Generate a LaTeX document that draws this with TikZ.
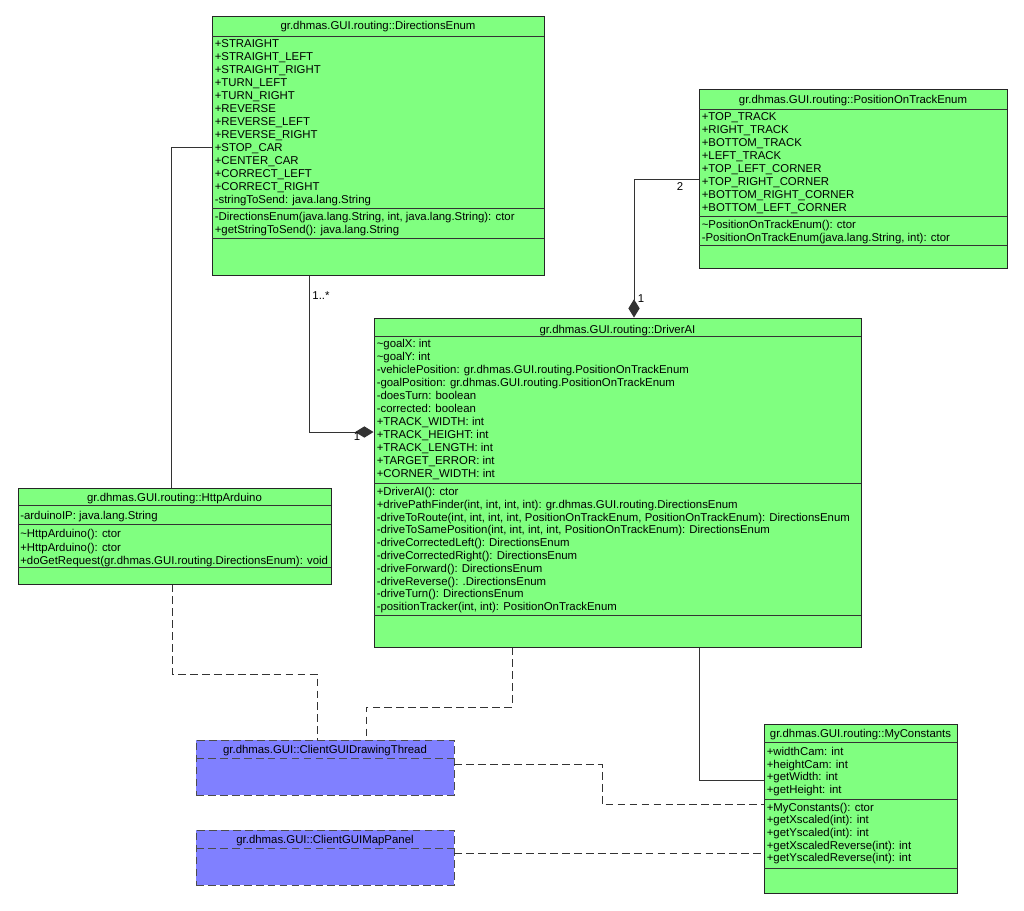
\documentclass[tikz,border=0pt]{standalone}
\usepackage{fontspec}
\setmainfont{Liberation Sans}
\usetikzlibrary{positioning,fit,arrows.meta}

\definecolor{vertuml}{HTML}{80FF80}
\definecolor{bleuuml}{HTML}{8080FF}

\tikzset{
  classe/.style={draw=black!85, fill=vertuml, line width=0.7pt, inner sep=0pt},
  classebleue/.style={draw=black!70, fill=bleuuml, line width=0.7pt, inner sep=0pt, dash pattern=on 5.5pt off 3pt},
  titre/.style={anchor=base, inner sep=0pt, font=\fontsize{8.1}{9.5}\selectfont},
  texte/.style={anchor=base west, inner sep=0pt, font=\fontsize{8.1}{9.5}\selectfont},
  lien/.style={draw=black!80, line width=0.7pt},
  dependance/.style={lien, dash pattern=on 5.5pt off 3pt},
  composition/.style={lien, -{Diamond[length=13pt,width=8pt]}},
  etiquette/.style={inner sep=0pt, font=\fontsize{8.1}{9.5}\selectfont},
}

\begin{document}
\begin{tikzpicture}[x=0.025cm, y=-0.025cm]
\fill[white] (0,0) rectangle (1024,910);
\useasboundingbox (0,0) rectangle (1024,910);

% DirectionsEnum
\node[classe, fit={(212,16) (544,275)}] (dirEnum) {};
\draw[lien] (212,36) -- (544,36) (212,208) -- (544,208) (212,238) -- (544,238);
\node[titre] (dirTitre) at (378,29.5) {gr.dhmas.GUI.routing::DirectionsEnum};
\foreach \ligne [count=\i from 0] in {+STRAIGHT, +STRAIGHT\_LEFT, +STRAIGHT\_RIGHT, +TURN\_LEFT, +TURN\_RIGHT, +REVERSE, +REVERSE\_LEFT, +REVERSE\_RIGHT, +STOP\_CAR, +CENTER\_CAR, +CORRECT\_LEFT, +CORRECT\_RIGHT, -stringToSend: java.lang.String}{
  \node[texte] (dirA\i) at (214.5,47+13.03*\i) {\ligne};
}
\foreach \ligne [count=\i from 0] in {{-DirectionsEnum(java.lang.String, int, java.lang.String): ctor}, +getStringToSend(): java.lang.String}{
  \node[texte] (dirM\i) at (214.5,220.3+13*\i) {\ligne};
}

% PositionOnTrackEnum
\node[classe, fit={(699,89) (1007,268)}] (posEnum) {};
\draw[lien] (699,109) -- (1007,109) (699,216) -- (1007,216) (699,245) -- (1007,245);
\node[titre] (posTitre) at (853,103.5) {gr.dhmas.GUI.routing::PositionOnTrackEnum};
\foreach \ligne [count=\i from 0] in {+TOP\_TRACK, +RIGHT\_TRACK, +BOTTOM\_TRACK, +LEFT\_TRACK, +TOP\_LEFT\_CORNER, +TOP\_RIGHT\_CORNER, +BOTTOM\_RIGHT\_CORNER, +BOTTOM\_LEFT\_CORNER}{
  \node[texte] (posA\i) at (701.5,120.8+13*\i) {\ligne};
}
\foreach \ligne [count=\i from 0] in {\textasciitilde PositionOnTrackEnum(): ctor, {-PositionOnTrackEnum(java.lang.String, int): ctor}}{
  \node[texte] (posM\i) at (701.5,228.5+13.3*\i) {\ligne};
}

% DriverAI
\node[classe, fit={(374,318) (861,647)}] (driverAI) {};
\draw[lien] (374,336) -- (861,336) (374,483.3) -- (861,483.3) (374,615) -- (861,615);
\node[titre] (drvTitre) at (617.5,333.5) {gr.dhmas.GUI.routing::DriverAI};
\foreach \ligne [count=\i from 0] in {\textasciitilde goalX: int, \textasciitilde goalY: int, -vehiclePosition: gr.dhmas.GUI.routing.PositionOnTrackEnum, -goalPosition: gr.dhmas.GUI.routing.PositionOnTrackEnum, -doesTurn: boolean, -corrected: boolean, +TRACK\_WIDTH: int, +TRACK\_HEIGHT: int, +TRACK\_LENGTH: int, +TARGET\_ERROR: int, +CORNER\_WIDTH: int}{
  \node[texte] (drvA\i) at (376.5,347.8+13*\i) {\ligne};
}
\foreach \ligne [count=\i from 0] in {+DriverAI(): ctor, {+drivePathFinder(int, int, int, int): gr.dhmas.GUI.routing.DirectionsEnum}, {-driveToRoute(int, int, int, int, PositionOnTrackEnum, PositionOnTrackEnum): DirectionsEnum}, {-driveToSamePosition(int, int, int, int, PositionOnTrackEnum): DirectionsEnum}, -driveCorrectedLeft(): DirectionsEnum, -driveCorrectedRight(): DirectionsEnum, -driveForward(): DirectionsEnum, -driveReverse(): .DirectionsEnum, -driveTurn(): DirectionsEnum, {-positionTracker(int, int): PositionOnTrackEnum}}{
  \node[texte] (drvM\i) at (376.5,495.5+12.8*\i) {\ligne};
}

% HttpArduino
\node[classe, fit={(18,488) (331,584)}] (httpArduino) {};
\draw[lien] (18,505) -- (331,505) (18,524.3) -- (331,524.3) (18,567.7) -- (331,567.7);
\node[titre] (httpTitre) at (174.5,501.2) {gr.dhmas.GUI.routing::HttpArduino};
\node[texte] (httpA0) at (20,519.5) {-arduinoIP: java.lang.String};
\foreach \ligne [count=\i from 0] in {\textasciitilde HttpArduino(): ctor, +HttpArduino(): ctor, +doGetRequest(gr.dhmas.GUI.routing.DirectionsEnum): void}{
  \node[texte] (httpM\i) at (20,537.8+13.2*\i) {\ligne};
}

% MyConstants
\node[classe, fit={(764,724) (957,893)}] (myConst) {};
\draw[lien] (764,742.3) -- (957,742.3) (764,799.3) -- (957,799.3) (764,868.3) -- (957,868.3);
\node[titre] (cstTitre) at (860.5,737.5) {gr.dhmas.GUI.routing::MyConstants};
\foreach \ligne [count=\i from 0] in {+widthCam: int, +heightCam: int, +getWidth: int, +getHeight: int}{
  \node[texte] (cstA\i) at (766.5,755.2+12.8*\i) {\ligne};
}
\foreach \ligne [count=\i from 0] in {+MyConstants(): ctor, +getXscaled(int): int, +getYscaled(int): int, +getXscaledReverse(int): int, +getYscaledReverse(int): int}{
  \node[texte] (cstM\i) at (766.5,811.2+12.65*\i) {\ligne};
}

% classes externes (bleu)
\node[classebleue, fit={(196,740) (454,795)}] (drawThread) {};
\draw[classebleue] (196,758.3) -- (454,758.3);
\node[titre] (thrTitre) at (325,753.5) {gr.dhmas.GUI::ClientGUIDrawingThread};
\node[classebleue, fit={(196,830) (454,885)}] (mapPanel) {};
\draw[classebleue] (196,848.3) -- (454,848.3);
\node[titre] (mapTitre) at (325,843.5) {gr.dhmas.GUI::ClientGUIMapPanel};

% liens
\draw[composition] (dirEnum.south -| 309,0) |- (driverAI.west |- 0,432);
\node[etiquette] (mult1) at (321,296) {1..*};
\node[etiquette] (mult2) at (357,437) {1};
\draw[composition] (posEnum.west |- 0,179) -| (driverAI.north -| 634,0);
\node[etiquette] (mult3) at (680,187) {2};
\node[etiquette] (mult4) at (641,299) {1};
\draw[lien] (dirEnum.west |- 0,147) -| (httpArduino.north -| 171,0);
\draw[lien] (driverAI.south -| 699,0) |- (myConst.west |- 0,780);
\draw[dependance] (httpArduino.south -| 172,0) -- (172,674) -| (drawThread.north -| 317,0);
\draw[dependance] (driverAI.south -| 512,0) -- (512,707) -| (drawThread.north -| 366,0);
\draw[dependance] (drawThread.east |- 0,764) -| (602,804) -- (myConst.west |- 0,804);
\draw[dependance] (mapPanel.east |- 0,853) -- (myConst.west |- 0,853);
\end{tikzpicture}
\end{document}
